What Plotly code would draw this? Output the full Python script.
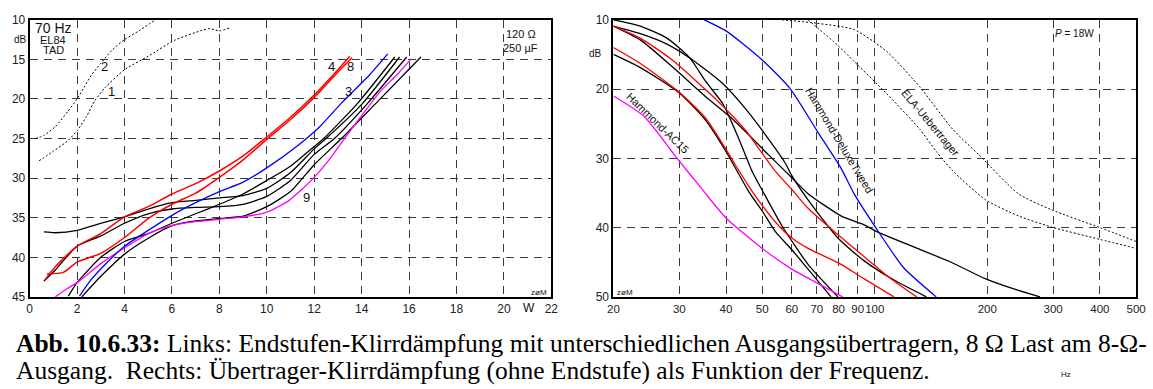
import plotly.graph_objects as go

W, H = 1153, 389

# ---------------- LEFT CHART DATA (x = power in W, y = distortion attenuation in dB) -------------
L_c2_x = [0.25, 0.6, 1.08, 1.6, 2.0, 2.3, 2.6, 3.0, 3.45, 4.0, 4.55, 5.3]
L_c2_y = [25.0, 24.6, 23.5, 21.6, 20.0, 18.5, 17.0, 15.5, 13.9, 12.5, 11.5, 10.0]
L_c1_x = [0.4, 1.0, 1.6, 2.0, 2.4, 2.75, 3.17, 4.0, 5.0, 6.1, 7.3, 7.6, 8.0, 8.45]
L_c1_y = [27.8, 26.6, 25.3, 24.0, 22.2, 20.2, 18.6, 16.3, 14.6, 12.6, 11.3, 11.1, 11.4, 11.0]

L_red1_x = [0.66, 1.08, 2, 3, 4, 5, 6, 7, 8, 9, 10, 11, 12, 13, 13.5]
L_red1_y = [42.8, 41.2, 38.6, 37.0, 34.9, 33.6, 32.0, 30.7, 29.1, 27.2, 24.8, 22.3, 19.5, 16.3, 14.6]
L_red2_x = [0.73, 1.42, 2, 3, 4, 5, 6, 7, 8, 9, 10, 11, 12, 13, 13.6]
L_red2_y = [42.1, 41.9, 40.6, 39.5, 37.5, 35.1, 33.3, 31.9, 29.9, 27.7, 25.1, 22.6, 19.8, 16.6, 14.8]

L_blue_x = [2.1, 2.6, 3.15, 4, 5, 6, 7, 8, 9, 10, 11.34, 12.2, 13.14, 14.35, 15.1]
L_blue_y = [44.9, 42.8, 41.0, 38.6, 36.6, 34.7, 33.1, 31.7, 30.5, 28.7, 25.8, 23.6, 20.55, 16.9, 14.3]

L_mag_x = [1.08, 1.56, 2.0, 3.0, 4.0, 5.0, 6.0, 7.0, 8.0, 9.0, 10.0, 10.9, 11.45, 12.0, 12.6, 13.4, 14.1, 14.8, 15.5, 16.1]
L_mag_y = [45.0, 44.0, 43.2, 40.8, 38.8, 37.0, 36.0, 35.5, 35.2, 34.9, 34.3, 32.9, 31.5, 29.9, 27.8, 24.5, 21.7, 19.0, 16.9, 14.9]

L_blkA_x = [0.6, 1.08, 2, 3, 4, 5, 6, 7, 8, 9, 10, 11, 12, 12.5, 14.04, 15.6]
L_blkA_y = [36.8, 36.9, 36.6, 35.7, 34.9, 33.9, 33.1, 32.8, 32.5, 32.2, 31.3, 29.3, 26.3, 25.0, 20.55, 14.7]
L_blkB_x = [0.6, 1.08, 2, 3, 4, 5, 6, 7, 8, 9, 10, 11, 12, 12.85, 14.25, 15.9]
L_blkB_y = [43.0, 41.6, 38.6, 37.3, 35.7, 34.5, 33.9, 33.7, 33.6, 33.3, 32.3, 30.3, 27.0, 25.0, 20.55, 14.7]
L_blkC_x = [1.63, 2, 3, 4, 5, 6, 7, 8, 9, 10, 11, 12, 12.4, 13.83, 15.4]
L_blkC_y = [44.9, 43.2, 40.0, 38.0, 37.0, 35.7, 34.5, 33.3, 32.0, 30.3, 28.5, 26.0, 25.0, 20.55, 14.7]
L_blkD_x = [2.2, 3, 4, 5, 6, 7, 8, 9, 10, 11, 12, 13.15, 14.6, 16.5]
L_blkD_y = [45.0, 42.4, 39.6, 37.6, 36.0, 35.4, 35.1, 34.8, 33.6, 31.7, 28.3, 25.0, 20.55, 14.7]

L_xticks = [0, 2, 4, 6, 8, 10, 12, 14, 16, 18, 20, 22]
L_yticks = [10, 15, 20, 25, 30, 35, 40, 45]

# ---------------- RIGHT CHART DATA (x = frequency in Hz, y = dB) -------------
R_mag_f = [20, 24.1, 29.5, 34.7, 40, 50, 60, 69, 82]
R_mag_d = [21.0, 23.9, 29.9, 34.6, 38.6, 43.0, 46.0, 47.8, 50.0]

R_blue_f = [35, 40, 50, 59.3, 70.4, 81.2, 88, 100.6, 119.5, 146]
R_blue_d = [10.0, 11.6, 15.8, 19.9, 26.2, 31.4, 35.1, 40.0, 45.8, 50.0]

R_ela1_f = [56.4, 70, 88, 107.8, 132, 161.6, 190, 242, 296, 400, 500]
R_ela1_d = [10.0, 10.5, 11.4, 14.6, 19.7, 25.8, 29.5, 35.1, 37.4, 40.0, 42.0]
R_ela2_f = [66.3, 79.7, 88, 107.8, 132, 146, 161.6, 198, 242, 296, 400, 500]
R_ela2_d = [10.0, 13.7, 16.0, 20.7, 25.8, 29.0, 31.8, 36.0, 38.3, 39.9, 41.7, 43.0]

R_blkTop_f = [20, 23.6, 27.8, 32, 35.3, 39.2, 43, 47, 50, 56.4, 66.3, 79.7]
R_blkTop_d = [10.0, 10.9, 12.65, 15.5, 18.9, 22.1, 26.8, 31.9, 34.6, 39.7, 45.3, 50.0]
R_blkMid_f = [20, 23.6, 27.8, 32, 39.2, 45.2, 51, 57.5, 60, 66.3, 79.7, 93.7, 112, 137.4]
R_blkMid_d = [10.9, 12.0, 13.5, 15.5, 19.2, 22.9, 26.6, 30.6, 32.5, 36.0, 41.5, 44.8, 47.5, 50.0]
R_blkLow_f = [20, 23.6, 28.9, 35.3, 40.8, 48, 52, 60, 66.3, 81.2, 93.7, 100.6, 130, 160, 198, 240, 276.6]
R_blkLow_d = [10.9, 12.9, 16.9, 21.1, 23.9, 27.6, 29.5, 32.8, 35.1, 38.3, 39.6, 40.5, 43.0, 45.0, 47.4, 49.0, 50.0]
R_blk4_f = [20, 23.6, 29.9, 35.3, 40, 43, 46, 50, 54.1, 60, 66.3, 76.4]
R_blk4_d = [15.0, 16.9, 20.5, 24.5, 29.0, 32.0, 34.8, 37.6, 40.5, 43.2, 46.0, 50.0]
R_red1_f = [20, 23.6, 28.9, 35.3, 40, 45.2, 48.5, 54.1, 60, 66.3, 81.2, 93.7, 110, 129.4]
R_red1_d = [10.9, 12.65, 15.9, 20.1, 22.9, 26.0, 28.3, 31.8, 34.5, 37.2, 41.4, 44.2, 47.3, 50.0]
R_red2_f = [20, 23.6, 29.9, 35.3, 40, 43, 46, 50, 55.5, 60, 66.3, 81.2, 93.7, 112.5]
R_red2_d = [14.0, 16.3, 20.4, 24.2, 28.7, 31.5, 34.0, 36.8, 39.8, 41.5, 43.0, 45.3, 47.4, 50.0]

R_xticks = [20, 30, 40, 50, 60, 70, 80, 90, 100, 200, 300, 400, 500]
R_yticks = [10, 20, 30, 40, 50]


def px(x):
    return x / W


def py(y):
    return 1 - y / H


fig = go.Figure()


def line(x, y, color, xa="x", ya="y", width=1.3, dash=None):
    fig.add_trace(go.Scatter(x=x, y=y, mode="lines", xaxis=xa, yaxis=ya,
                             line=dict(color=color, width=width, dash=dash, shape="spline", smoothing=0.6),
                             showlegend=False, hoverinfo="skip"))


DOT = "2px,2px"
# left
line(L_c2_x, L_c2_y, "black", width=1, dash=DOT)
line(L_c1_x, L_c1_y, "black", width=1, dash=DOT)
for xs, ys in [(L_blkA_x, L_blkA_y), (L_blkB_x, L_blkB_y), (L_blkC_x, L_blkC_y), (L_blkD_x, L_blkD_y)]:
    line(xs, ys, "black")
line(L_mag_x, L_mag_y, "#ff00ff")
line(L_blue_x, L_blue_y, "#0000ff")
line(L_red1_x, L_red1_y, "#ff0000", width=1.5)
line(L_red2_x, L_red2_y, "#ff0000", width=1.5)

# right
line(R_ela1_f, R_ela1_d, "black", "x2", "y2", width=1, dash=DOT)
line(R_ela2_f, R_ela2_d, "black", "x2", "y2", width=1, dash=DOT)
for fs, ds in [(R_blkTop_f, R_blkTop_d), (R_blkMid_f, R_blkMid_d), (R_blkLow_f, R_blkLow_d), (R_blk4_f, R_blk4_d)]:
    line(fs, ds, "black", "x2", "y2")
line(R_red1_f, R_red1_d, "#ff0000", "x2", "y2")
line(R_red2_f, R_red2_d, "#ff0000", "x2", "y2")
line(R_mag_f, R_mag_d, "#ff00ff", "x2", "y2")
line(R_blue_f, R_blue_d, "#0000ff", "x2", "y2")

YD = [1 - 300.7 / H, 1 - 13.3 / H]
common = dict(showline=True, linecolor="black", linewidth=2, mirror=True,
              showgrid=True, gridcolor="#3a3a3a", gridwidth=1.4, griddash="8px,6px",
              zeroline=False, ticks="", tickangle=0)
TF = dict(family="Liberation Sans, Arial", size=12, color="#222")

fig.update_layout(
    width=W, height=H, margin=dict(l=0, r=0, t=0, b=0),
    paper_bgcolor="white", plot_bgcolor="white",
    xaxis=dict(domain=[24 / W, 553 / W], range=[0, 22], tickvals=L_xticks, anchor="y", tickfont=TF, **common),
    yaxis=dict(domain=YD, range=[45, 10], tickvals=L_yticks, anchor="x", tickfont=TF, **common),
    xaxis2=dict(domain=[616 / W, 1146 / W], type="log", range=[1.30103, 2.69897],
                tickvals=R_xticks, ticktext=[str(t) for t in R_xticks], anchor="y2",
                tickfont=dict(family="Liberation Sans, Arial", size=11.5, color="#222"), **common),
    yaxis2=dict(domain=YD, range=[50, 10], tickvals=R_yticks, anchor="x2", tickfont=TF, **common),
)

SANS = "Liberation Sans, Arial"
ann = []


def t(text, x, y, size=12, xref="paper", yref="paper", angle=0, xanchor="center", color="#111", family=SANS):
    ann.append(dict(text=text, x=x, y=y, xref=xref, yref=yref, showarrow=False, textangle=angle,
                    xanchor=xanchor, yanchor="middle", borderpad=0,
                    font=dict(size=size, color=color, family=family)))


# left chart texts (pixel placed)
t("70 Hz", px(48), py(22), 14)
t("EL84", px(48), py(34), 11)
t("TAD", px(48), py(45), 11)
t("dB", px(15), py(34), 10)
t("120 Ω", px(522), py(28), 11)
t("250 µF", px(522), py(43), 11)
t("W", px(530), py(312), 12)
t("zøM", px(540), py(296), 8)
# curve labels in data coords
t("2", 3.16, 15.9, 13, "x", "y")
t("1", 3.45, 19.1, 13, "x", "y")
t("4", 12.72, 15.9, 13, "x", "y")
t("8", 13.55, 15.9, 13, "x", "y")
t("3", 13.43, 19.1, 13, "x", "y")
t("9", 11.68, 32.4, 13, "x", "y")

# right chart texts
t("dB", px(598), py(48), 10)
t("<i>P</i> = 18W", px(1084), py(27), 10)
t("zøM", px(628), py(296), 8)
t("Hammond-AC15", px(661), py(120), 11, angle=44)
t("Hammond-DeluxeTweed", px(845), py(138), 11, angle=59)
t("ELA-Uebertrager", px(938), py(120), 11, angle=50)
t("Hz", px(1075), py(381), 8)

# caption
SERIF = "Liberation Serif, Times New Roman"
t("<b>Abb. 10.6.33:</b> Links: Endstufen-Klirrdämpfung mit unterschiedlichen Ausgangsübertragern, 8 Ω Last am 8-Ω-",
  px(9), py(349), 25.5, xanchor="left", color="black", family=SERIF)
t("Ausgang.  Rechts: Übertrager-Klirrdämpfung (ohne Endstufe) als Funktion der Frequenz.",
  px(9), py(377), 25.5, xanchor="left", color="black", family=SERIF)

fig.update_layout(annotations=ann)
fig.write_html("out.html")
